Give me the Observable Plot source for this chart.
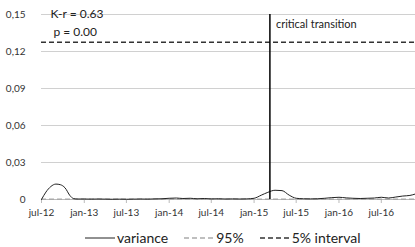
<!DOCTYPE html>
<html><head><meta charset="utf-8">
<script src="https://cdn.jsdelivr.net/npm/d3@7"></script>
<script src="https://cdn.jsdelivr.net/npm/@observablehq/plot@0.6"></script>
<style>
body{margin:0;background:#fff;font-family:Lato,"Open Sans",sans-serif;}
#legend{display:flex;justify-content:flex-start;align-items:center;height:25px;font-size:14px;color:#222;padding-left:85px;padding-top:3px;}
.item{display:flex;align-items:center;margin-right:16px;}
.item svg{margin-right:2px;}
</style></head><body>
<div id="chart"></div>
<div id="legend"></div>
<script>
const dates = ["2012-07-01","2012-07-20","2012-08-10","2012-09-01","2012-09-20","2012-10-10","2012-11-01","2012-11-15","2012-12-01",
"2013-01-01","2013-02-01","2013-03-01","2013-04-01","2013-05-01","2013-06-01","2013-07-01","2013-08-01","2013-09-01","2013-10-01","2013-11-01","2013-12-01",
"2014-01-01","2014-02-01","2014-03-01","2014-04-01","2014-05-01","2014-06-01","2014-07-01","2014-08-01","2014-09-01","2014-10-01","2014-11-01","2014-12-01",
"2015-01-01","2015-02-01","2015-03-01","2015-04-01","2015-05-01","2015-06-01","2015-07-01","2015-08-01","2015-09-01","2015-10-01","2015-11-01","2015-12-01",
"2016-01-01","2016-02-01","2016-03-01","2016-04-01","2016-05-01","2016-06-01","2016-07-01","2016-08-01","2016-09-01","2016-10-01","2016-11-01","2016-11-25"];
const variance = [0.0000,0.0060,0.0105,0.0125,0.0120,0.0095,0.0030,0.0008,0.0004,
0.0004,0.0003,0.0004,0.0003,0.0002,0.0003,0.0002,0.0003,0.0004,0.0003,0.0005,0.0006,
0.0010,0.0012,0.0008,0.0010,0.0006,0.0008,0.0005,0.0006,0.0004,0.0005,0.0004,0.0005,
0.0010,0.0035,0.0058,0.0075,0.0072,0.0035,0.0010,0.0006,0.0005,0.0006,0.0010,0.0015,
0.0018,0.0013,0.0010,0.0008,0.0010,0.0012,0.0018,0.0012,0.0020,0.0028,0.0033,0.0045];
const lower95 = 0.0002;
const upper5 = 0.1275;
const transitionDate = "2015-03-10";
const yTicks = [0,0.03,0.06,0.09,0.12,0.15];
const yTickLabels = ["0","0,03","0,06","0,09","0,12","0,15"];
const xTicks = ["2012-07-01","2013-01-01","2013-07-01","2014-01-01","2014-07-01","2015-01-01","2015-07-01","2016-01-01","2016-07-01"];
const xTickLabels = ["jul-12","jan-13","jul-13","jan-14","jul-14","jan-15","jul-15","jan-16","jul-16"];
const statText = ["K-r = 0.63","p = 0.00"];
const transitionText = "critical transition";
const legendLabels = ["variance","95%","5% interval"];

const parse = d3.utcParse("%Y-%m-%d");
const data = dates.map((d,i)=>({date:parse(d), v:variance[i]}));
const xt = xTicks.map(parse);
const domain = [parse("2012-07-01"), parse("2016-11-25")];

const plot = Plot.plot({
  width:415, height:222,
  marginLeft:41, marginRight:0, marginTop:14, marginBottom:23,
  style:{fontFamily:"Lato, 'Open Sans', sans-serif", fontSize:"10px", color:"#333", background:"#fff"},
  x:{type:"utc", domain},
  y:{domain:[0,0.15]},
  marks:[
    Plot.ruleY(yTicks.filter(d=>d>0), {stroke:"#d0d0d0", strokeWidth:1}),
    Plot.axisY({ticks:yTicks, tickFormat:(d,i)=>yTickLabels[yTicks.indexOf(d)], tickSize:0, tickPadding:16, label:null, fontSize:10}),
    Plot.ruleY([0], {stroke:"#bbb"}),
    Plot.axisX({ticks:xt, tickFormat:(d)=>xTickLabels[xt.findIndex(t=>+t===+d)], tickSize:4, tickPadding:5, stroke:"#bbb", label:null, fontSize:10, color:"#333"}),
    Plot.ruleY([lower95], {stroke:"#aaa", strokeWidth:1.5, strokeDasharray:"5,3"}),
    Plot.ruleY([upper5], {stroke:"#333", strokeWidth:1.5, strokeDasharray:"5,3"}),
    Plot.line(data, {x:"date", y:"v", stroke:"#222", strokeWidth:1, curve:"monotone-x"}),
    Plot.ruleX([parse(transitionDate)], {stroke:"#000", strokeWidth:1.5}),
    Plot.text([statText[0]], {x:domain[0], y:0.15, text:d=>d, textAnchor:"start", dx:9, fontSize:12, fill:"#222"}),
    Plot.text([statText[1]], {x:domain[0], y:0.15, text:d=>d, textAnchor:"start", dx:12, dy:18, fontSize:12, fill:"#222"}),
    Plot.text([transitionText], {x:parse(transitionDate), y:0.15, text:d=>d, textAnchor:"start", dx:6, dy:10, fontSize:11, fill:"#222"})
  ]
});
document.getElementById("chart").appendChild(plot);

const styles = [{stroke:"#222",dash:"none",w:1},{stroke:"#aaa",dash:"5,3",w:1.5},{stroke:"#333",dash:"5,3",w:1.5}];
const leg = document.getElementById("legend");
legendLabels.forEach((l,i)=>{
  const it = document.createElement("div"); it.className="item";
  it.innerHTML = `<svg width="30" height="6"><line x1="0" y1="3" x2="30" y2="3" stroke="${styles[i].stroke}" stroke-width="${styles[i].w}" stroke-dasharray="${styles[i].dash}"/></svg><span>${l}</span>`;
  leg.appendChild(it);
});
</script>
</body></html>
